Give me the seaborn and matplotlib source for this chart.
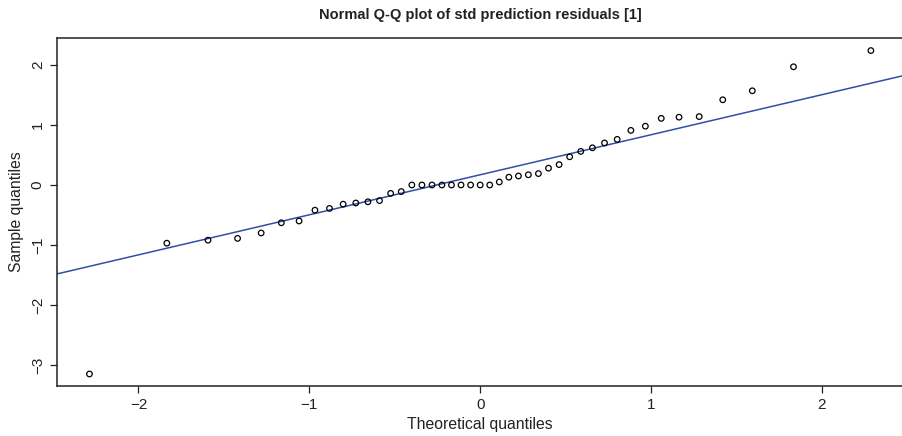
import numpy as np
import pandas as pd
import matplotlib
matplotlib.use("Agg")
import matplotlib.pyplot as plt
import seaborn as sns

# Theoretical normal quantiles for 45 residuals
theoretical = [
    -2.287, -1.834, -1.593, -1.420, -1.282, -1.164, -1.060, -0.967, -0.882,
    -0.802, -0.728, -0.657, -0.589, -0.524, -0.462, -0.400, -0.341, -0.282,
    -0.224, -0.168, -0.112, -0.056, 0.000, 0.056, 0.112, 0.168, 0.224,
    0.282, 0.341, 0.400, 0.462, 0.524, 0.589, 0.657, 0.728, 0.802, 0.882,
    0.967, 1.060, 1.164, 1.282, 1.420, 1.593, 1.834, 2.287,
]
# Sorted standardized prediction residuals
sample = [
    -3.15, -0.97, -0.92, -0.89, -0.80, -0.63, -0.60, -0.42, -0.39,
    -0.32, -0.30, -0.28, -0.26, -0.14, -0.11, 0.00, 0.00, 0.00,
    0.00, 0.00, 0.00, 0.00, 0.00, 0.00, 0.05, 0.13, 0.15,
    0.17, 0.19, 0.28, 0.34, 0.47, 0.56, 0.62, 0.70, 0.76, 0.91,
    0.98, 1.11, 1.13, 1.14, 1.42, 1.57, 1.97, 2.24,
]
x_ticks = [-2, -1, 0, 1, 2]
y_ticks = [-3, -2, -1, 0, 1, 2]

df = pd.DataFrame({"theoretical": theoretical, "sample": sample})

# Reference line through the first and third quartiles
q25, q75 = np.quantile(df["sample"], [0.25, 0.75])
z25, z75 = -0.6745, 0.6745
slope = (q75 - q25) / (z75 - z25)
intercept = q25 - slope * z25

sns.set_style("ticks")
plt.rcParams["font.family"] = ["Liberation Sans", "DejaVu Sans"]

fig = plt.figure(figsize=(9.03, 4.36), dpi=100)
ax = fig.add_axes([0.0635, 0.1147, 0.9365, 0.7982])

xmin, xmax = -2.475, 2.475
ax.set_xlim(xmin, xmax)
ax.set_ylim(-3.35, 2.45)

line_x = np.array([xmin, xmax])
ax.plot(line_x, intercept + slope * line_x, color="#2F4FA8", lw=1.1, zorder=2)

sns.scatterplot(data=df, x="theoretical", y="sample", ax=ax,
                marker="o", s=16, facecolor="none", edgecolor="black",
                linewidth=0.9, zorder=3)

ax.set_xticks(x_ticks)
ax.set_xticklabels([f"{t}".replace("-", "\u2212") for t in x_ticks])
ax.set_yticks(y_ticks)
ax.set_yticklabels([f"{t}".replace("-", "\u2212") for t in y_ticks],
                   rotation=90, va="center")

ax.tick_params(axis="both", length=5, width=0.9, colors="#222222",
               labelsize=11, labelcolor="#222222", pad=4)
for side in ["left", "bottom", "top"]:
    ax.spines[side].set_linewidth(1.1)
    ax.spines[side].set_color("#222222")
ax.spines["right"].set_visible(False)

ax.set_xlabel("Theoretical quantiles", fontsize=11.3, color="#222222", labelpad=3)
ax.set_ylabel("Sample quantiles", fontsize=11.3, color="#222222", labelpad=5)
ax.set_title("Normal Q-Q plot of std prediction residuals [1]",
             fontsize=10.5, fontweight="bold", color="#222222", pad=14)

fig.savefig("out.png", dpi=100)
